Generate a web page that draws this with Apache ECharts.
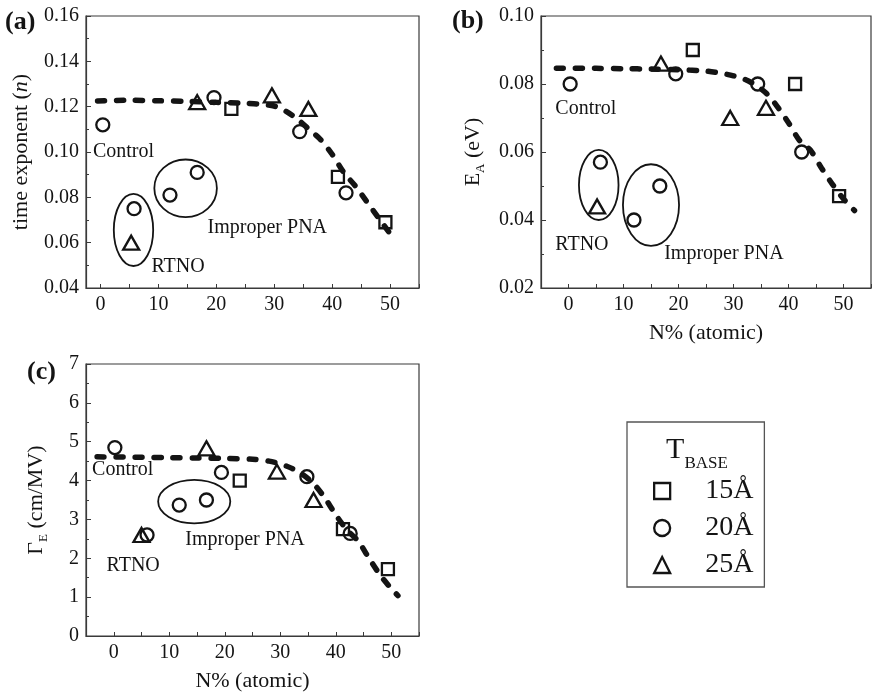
<!DOCTYPE html>
<html><head><meta charset="utf-8">
<script src="https://cdn.jsdelivr.net/npm/echarts@6/dist/echarts.min.js"></script>
<style>html,body{margin:0;padding:0;background:#fff}#c{width:874px;height:696px}</style>
</head><body><div id="c"></div>
<script>
// ---------- data ----------
const seriesNames = ['15Å', '20Å', '25Å'];

// panel (a): time exponent n
const aSqX = [22.6, 41.0, 49.2];
const aSqY = [0.119, 0.089, 0.069];
const aCiX = [0.4, 5.8, 12.0, 16.7, 19.6, 34.4, 42.4];
const aCiY = [0.112, 0.075, 0.081, 0.091, 0.124, 0.109, 0.082];
const aTrX = [5.3, 16.7, 29.6, 35.9];
const aTrY = [0.060, 0.122, 0.125, 0.119];
const aFitX = [-0.5, 5, 10, 15, 20, 25, 28, 30, 32, 34, 36, 38, 40, 42, 44, 46, 48, 50, 51];
const aFitY = [0.1225, 0.1228, 0.1226, 0.1223, 0.1219, 0.1215, 0.121, 0.1203, 0.118, 0.1145, 0.110, 0.1055, 0.099, 0.091, 0.085, 0.078, 0.071, 0.064, 0.061];

// panel (b): E_A (eV)
const bSqX = [22.6, 41.2, 49.2];
const bSqY = [0.090, 0.080, 0.047];
const bCiX = [0.3, 5.8, 11.9, 16.6, 19.5, 34.4, 42.4];
const bCiY = [0.080, 0.057, 0.040, 0.050, 0.083, 0.080, 0.060];
const bTrX = [5.2, 16.8, 29.4, 35.9];
const bTrY = [0.044, 0.086, 0.070, 0.073];
const bFitX = [-2.2, 5, 10, 15, 20, 25, 28, 30, 32, 34, 36, 38, 40, 42, 44, 46, 48, 50, 52];
const bFitY = [0.0846, 0.0846, 0.0845, 0.0844, 0.0842, 0.0838, 0.0831, 0.0824, 0.0814, 0.0797, 0.0772, 0.0733, 0.0686, 0.0634, 0.0605, 0.0553, 0.0505, 0.0462, 0.0428];

// panel (c): Gamma_E (cm/MV)
const cSqX = [22.7, 41.3, 49.4];
const cSqY = [4.0, 2.75, 1.72];
const cCiX = [0.2, 6.0, 11.8, 16.7, 19.4, 34.8, 42.6];
const cCiY = [4.85, 2.6, 3.37, 3.5, 4.21, 4.1, 2.64];
const cTrX = [5.0, 16.7, 29.4, 36.0];
const cTrY = [2.6, 4.83, 4.23, 3.5];
const cFitX = [-3, 5, 10, 15, 20, 25, 28, 30, 32, 34, 36, 38, 40, 42, 44, 46, 48, 50, 51.2];
const cFitY = [4.61, 4.6, 4.59, 4.58, 4.57, 4.55, 4.5, 4.43, 4.32, 4.16, 3.92, 3.56, 3.12, 2.73, 2.45, 2.0, 1.57, 1.22, 1.04];

// annotations (panel, text, x, y) in data units
const noteText = [
  [0, 'Control', -1.3, 0.1001], [0, 'Improper PNA', 18.5, 0.0666], [0, 'RTNO', 8.8, 0.0494],
  [1, 'Control', -2.4, 0.0726], [1, 'RTNO', -2.4, 0.0326], [1, 'Improper PNA', 17.4, 0.0302],
  [2, 'Control', -3.9, 4.29], [2, 'Improper PNA', 12.9, 2.47], [2, 'RTNO', -1.3, 1.8]
];
// ellipses (panel, cx, cy, rx, ry) in data units
const noteEllipse = [
  [0, 5.7, 0.0656, 3.4, 0.0159], [0, 14.7, 0.084, 5.4, 0.0127],
  [1, 5.5, 0.0503, 3.6, 0.0103], [1, 15.0, 0.0444, 5.1, 0.012],
  [2, 14.5, 3.46, 6.5, 0.56]
];

// ---------- chart ----------
const FONT = 'Liberation Serif';
const INK = '#141414';
const AX = '#3a3a3a';
const chart = echarts.init(document.getElementById('c'), null, {renderer: 'canvas'});
const pts = (xs, ys) => xs.map((x, i) => [x, ys[i]]);

const grids = [
  {left: 86, top: 16, width: 333, height: 272},
  {left: 541, top: 16, width: 334, height: 272},
  {left: 86, top: 364, width: 333, height: 272}
].map(g => Object.assign(g, {show: true, borderColor: AX, borderWidth: 1.2, backgroundColor: 'transparent', containLabel: false}));

function xAxisCfg(i, min, showName) {
  return {
    type: 'value', gridIndex: i, min: min, max: 55, splitNumber: 12,
    axisLine: {show: true, onZero: false, lineStyle: {color: AX, width: 1.2}},
    axisTick: {show: true, inside: true, length: 4, lineStyle: {color: AX}},
    axisLabel: {margin: 7, fontSize: 20, fontFamily: FONT, color: INK,
      formatter: v => (Math.abs(v % 10) < 1e-9 ? String(Math.round(v)) : '')},
    splitLine: {show: false},
    name: showName ? 'N% (atomic)' : '', nameLocation: 'middle', nameGap: 34,
    nameTextStyle: {fontSize: 22, fontFamily: FONT, color: INK}
  };
}
const nameRich = {
  t: {fontSize: 22, fontFamily: FONT, color: INK},
  i: {fontSize: 22, fontFamily: FONT, color: INK, fontStyle: 'italic'},
  s: {fontSize: 13, fontFamily: FONT, color: INK, padding: [14, 0, 0, 0]}
};
function yAxisCfg(i, min, max, interval, dec, name, gap) {
  return {
    type: 'value', gridIndex: i, min: min, max: max, interval: interval,
    axisLine: {show: true, onZero: false, lineStyle: {color: AX, width: 1.2}},
    axisTick: {show: true, inside: true, length: 5, lineStyle: {color: AX}},
    minorTick: {show: true, splitNumber: 2, length: 3, lineStyle: {color: AX}},
    axisLabel: {margin: 7, fontSize: 20, fontFamily: FONT, color: INK, formatter: v => v.toFixed(dec)},
    splitLine: {show: false}, minorSplitLine: {show: false},
    name: name, nameLocation: 'middle', nameGap: gap, nameRotate: 90,
    nameTextStyle: {fontSize: 22, fontFamily: FONT, color: INK, rich: nameRich}
  };
}

const symStyle = {color: 'rgba(0,0,0,0)', borderColor: INK, borderWidth: 2.3, opacity: 1};
function panelSeries(i, sqX, sqY, ciX, ciY, trX, trY, fitX, fitY) {
  return [
    {type: 'line', name: 'fit', xAxisIndex: i, yAxisIndex: i, data: pts(fitX, fitY), smooth: 0.3,
     symbol: 'none', silent: true, z: 2,
     lineStyle: {color: INK, width: 5.5, type: [7, 12], cap: 'round'}},
    {type: 'scatter', name: seriesNames[0], xAxisIndex: i, yAxisIndex: i, data: pts(sqX, sqY),
     symbol: 'rect', symbolSize: 12, itemStyle: symStyle, z: 3},
    {type: 'scatter', name: seriesNames[1], xAxisIndex: i, yAxisIndex: i, data: pts(ciX, ciY),
     symbol: 'circle', symbolSize: 13, itemStyle: symStyle, z: 3},
    {type: 'scatter', name: seriesNames[2], xAxisIndex: i, yAxisIndex: i, data: pts(trX, trY),
     symbol: 'triangle', symbolSize: [16, 14], itemStyle: symStyle, z: 3}
  ];
}

const option = {
  animation: false,
  backgroundColor: '#fff',
  grid: grids,
  xAxis: [xAxisCfg(0, -2.5, false), xAxisCfg(1, -5, true), xAxisCfg(2, -5, true)],
  yAxis: [
    yAxisCfg(0, 0.04, 0.16, 0.02, 2, '{t|time exponent (}{i|n}{t|)}', 54),
    yAxisCfg(1, 0.02, 0.10, 0.02, 2, '{t|E}{s|A}{t| (eV)}', 54),
    yAxisCfg(2, 0, 7, 1, 0, '{t|Γ}{s|E}{t| (cm/MV)}', 36)
  ],
  legend: {
    data: seriesNames, orient: 'vertical', left: 627, top: 422,
    padding: [55, 11, 8, 26], itemWidth: 16, itemHeight: 16, itemGap: 9,
    borderColor: '#555', borderWidth: 1.3,
    selectedMode: false,
    itemStyle: {borderWidth: 2.3, borderColor: INK, color: 'rgba(0,0,0,0)', opacity: 1},
    textStyle: {fontSize: 28, fontFamily: FONT, color: INK, padding: [0, 0, 0, 30]}
  },
  series: [].concat(
    panelSeries(0, aSqX, aSqY, aCiX, aCiY, aTrX, aTrY, aFitX, aFitY),
    panelSeries(1, bSqX, bSqY, bCiX, bCiY, bTrX, bTrY, bFitX, bFitY),
    panelSeries(2, cSqX, cSqY, cCiX, cCiY, cTrX, cTrY, cFitX, cFitY)
  )
};
chart.setOption(option);

// ---------- annotations positioned through the axes ----------
const graphic = [];
const labels = [['(a)', 5, 22], ['(b)', 452, 21], ['(c)', 27, 372]];
labels.forEach(l => graphic.push({type: 'text', x: l[1], y: l[2], silent: true,
  style: {text: l[0], fontSize: 26, fontWeight: 'bold', fontFamily: FONT, fill: INK, align: 'left', verticalAlign: 'middle'}}));
noteText.forEach(n => {
  const p = chart.convertToPixel({gridIndex: n[0]}, [n[2], n[3]]);
  graphic.push({type: 'text', x: p[0], y: p[1], silent: true, z: 10,
    style: {text: n[1], fontSize: 20, fontFamily: FONT, fill: INK, align: 'left', verticalAlign: 'middle'}});
});
noteEllipse.forEach(e => {
  const c = chart.convertToPixel({gridIndex: e[0]}, [e[1], e[2]]);
  const r = chart.convertToPixel({gridIndex: e[0]}, [e[1] + e[3], e[2] + e[4]]);
  graphic.push({type: 'ellipse', silent: true, z: 10,
    shape: {cx: c[0], cy: c[1], rx: Math.abs(r[0] - c[0]), ry: Math.abs(c[1] - r[1])},
    style: {fill: 'none', stroke: INK, lineWidth: 1.8}});
});
graphic.push({type: 'text', x: 697, y: 450, silent: true, z: 10,
  style: {text: '{T|T}{s|BASE}', align: 'center', verticalAlign: 'middle',
    rich: {T: {fontSize: 30, fontFamily: FONT, fill: INK, color: INK},
           s: {fontSize: 17, fontFamily: FONT, fill: INK, color: INK, padding: [28, 0, 0, 0]}}}});
chart.setOption({graphic: graphic});
</script>
</body></html>
